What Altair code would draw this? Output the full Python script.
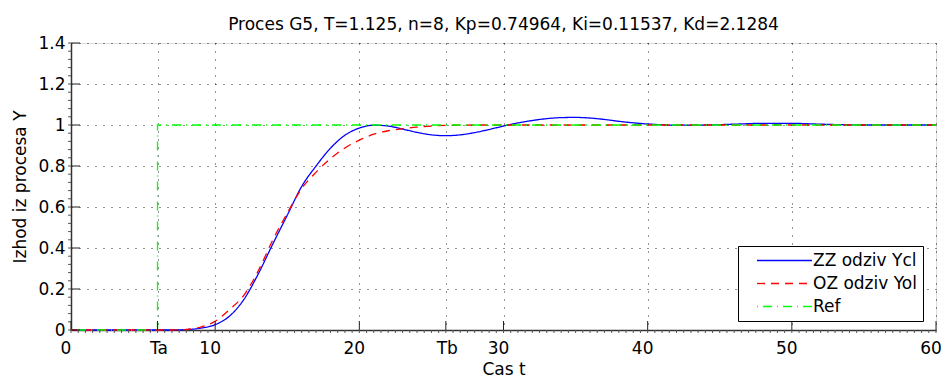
import altair as alt
import pandas as pd

TITLE = "Proces G5, T=1.125, n=8, Kp=0.74964, Ki=0.11537, Kd=2.1284"
X_TITLE = "Cas t"
Y_TITLE = "Izhod iz procesa Y"
SERIES = ["ZZ odziv Ycl", "OZ odziv Yol", "Ref"]
COLORS = ["#0000ff", "#ff0000", "#00ff00"]
DASHES = [[1, 0], [8, 6], [1, 5, 9, 5]]

# closed loop response (ZZ)
t_zz = [0, 6, 7, 8, 9, 10, 11, 12, 13, 14, 15, 16, 17, 18, 19, 20, 21, 22, 23, 24,
        25, 26, 27, 28, 29, 30, 31, 32, 33, 34, 35, 36, 37, 38, 40, 42, 44, 46, 48,
        50, 52, 55, 60]
y_zz = [0, 0, 0.0, 0.002, 0.009, 0.026, 0.068, 0.15, 0.275, 0.42, 0.56, 0.70, 0.80,
        0.887, 0.95, 0.985, 0.999, 0.995, 0.98, 0.964, 0.952, 0.948, 0.952, 0.963,
        0.978, 0.995, 1.01, 1.022, 1.031, 1.036, 1.037, 1.034, 1.027, 1.018, 1.005,
        0.999, 1.0, 1.004, 1.008, 1.008, 1.004, 1.0, 1.0]

# open loop response (OZ)
t_oz = [0, 6, 7, 8, 9, 10, 11, 12, 13, 14, 15, 16, 17, 18, 19, 20, 21, 22, 23, 24,
        25, 26, 28, 30, 40, 50, 60]
y_oz = [0, 0, 0.0, 0.003, 0.014, 0.043, 0.1, 0.17, 0.29, 0.44, 0.57, 0.69, 0.77,
        0.836, 0.888, 0.926, 0.955, 0.972, 0.982, 0.99, 0.995, 0.998, 1.0, 1.0, 1.0,
        1.0, 1.0]

# reference step
t_ref = [0, 6, 6, 60]
y_ref = [0, 0, 1, 1]

X_TICKS = [0, 6, 10, 20, 26, 30, 40, 50, 60]
X_LABELS = ["0", "Ta", "10", "20", "Tb", "30", "40", "50", "60"]
Y_TICKS = [0, 0.2, 0.4, 0.6, 0.8, 1.0, 1.2, 1.4]
Y_LABELS = ["0", "0.2", "0.4", "0.6", "0.8", "1", "1.2", "1.4"]
X_MINOR = [i * 0.5 for i in range(121)]
Y_MINOR = [round(i * 0.04, 2) for i in range(36)]

W, H = 865, 287
FONT = "DejaVu Sans"
FS = 17

rows = []
for name, ts, ys in [(SERIES[0], t_zz, y_zz), (SERIES[1], t_oz, y_oz)]:
    for i, (t, y) in enumerate(zip(ts, ys)):
        rows.append({"s": name, "t": t, "y": y, "i": i})
df_curves = pd.DataFrame(rows)
df_ref = pd.DataFrame({"s": SERIES[2], "t": t_ref, "y": y_ref, "i": range(len(t_ref))})

parts = [f"datum.value == {v} ? '{lab}'" for v, lab in zip(X_TICKS, X_LABELS)]
x_label_expr = " : ".join(parts + ["datum.label"])
y_parts = [f"abs(datum.value - {v}) < 1e-6 ? '{lab}'" for v, lab in zip(Y_TICKS, Y_LABELS)]
y_label_expr = " : ".join(y_parts + ["datum.label"])
# letter labels (Ta, Tb) sit on their ticks, numeric ones a little to the left
letter_test = " || ".join(
    f"datum.value == {v}" for v, lab in zip(X_TICKS, X_LABELS) if not lab[0].isdigit()
)

xscale = alt.Scale(domain=[0, 60], nice=False, zero=False)
yscale = alt.Scale(domain=[0, 1.4], nice=False, zero=False)

x_axis = alt.Axis(values=X_TICKS, labelExpr=x_label_expr, grid=True, gridDash=[1, 7],
                  gridColor="#000000", gridOpacity=0.85, gridWidth=1, ticks=False,
                  domainColor="#333333", domainWidth=1.5, labelFont=FONT, labelFontSize=FS,
                  labelColor="black", labelPadding=10, labelFlush=False, labelOverlap=False,
                  labelOffset={"condition": {"test": letter_test, "value": 1}, "value": -5.5},
                  title=X_TITLE, titleFont=FONT, titleFontSize=FS, titleFontWeight="normal",
                  titleColor="black", titleY=44, titleX=W / 2, titleBaseline="alphabetic",
                  titleAlign="center")
y_axis = alt.Axis(values=Y_TICKS, labelExpr=y_label_expr, grid=True, gridDash=[1, 7],
                  gridColor="#000000", gridOpacity=0.85, gridWidth=1, ticks=False,
                  domainColor="#333333", domainWidth=1.5, labelFont=FONT, labelFontSize=FS,
                  labelColor="black", labelPadding=6, labelFlush=False, labelOverlap=False,
                  title=Y_TITLE, titleFont=FONT, titleFontSize=FS, titleFontWeight="normal",
                  titleColor="black", titleX=-46, titleY=H / 2, titleAngle=270,
                  titleBaseline="alphabetic", titleAlign="center")

legend = alt.Legend(title=None, orient="none", legendX=667, legendY=203, direction="vertical",
                    strokeColor="black", fillColor="white", padding=6, cornerRadius=0,
                    symbolType="M-5,0H5", symbolSize=121, symbolStrokeWidth=1.3,
                    symbolOffset=32, labelOffset=20, labelFont=FONT, labelFontSize=FS,
                    labelColor="black", rowPadding=5, labelLimit=400)

color = alt.Color("s:N", scale=alt.Scale(domain=SERIES, range=COLORS), legend=legend)
dash = alt.StrokeDash("s:N", scale=alt.Scale(domain=SERIES, range=DASHES), legend=legend)

X_ENC = dict(scale=xscale, axis=x_axis)
Y_ENC = dict(scale=yscale, axis=y_axis)

curves = alt.Chart(df_curves).mark_line(interpolate="monotone", strokeWidth=1.3).encode(
    x=alt.X("t:Q", **X_ENC),
    y=alt.Y("y:Q", **Y_ENC),
    color=color, strokeDash=dash, detail="s:N", order="i:Q",
)
ref = alt.Chart(df_ref).mark_line(strokeWidth=1.3).encode(
    x=alt.X("t:Q", **X_ENC),
    y=alt.Y("y:Q", **Y_ENC),
    color=color, strokeDash=dash, order="i:Q",
)

tick_col = "#222222"
xmaj = alt.Chart(pd.DataFrame({"t": X_TICKS})).mark_rule(color=tick_col, strokeWidth=1).encode(
    x=alt.X("t:Q", **X_ENC), y=alt.value(H), y2=alt.value(H - 9))
ymaj = alt.Chart(pd.DataFrame({"y": Y_TICKS})).mark_rule(color=tick_col, strokeWidth=1).encode(
    y=alt.Y("y:Q", **Y_ENC), x=alt.value(0), x2=alt.value(9))
xmin = alt.Chart(pd.DataFrame({"t": X_MINOR})).mark_rule(color="#555555", strokeWidth=1).encode(
    x=alt.X("t:Q", **X_ENC), y=alt.value(H), y2=alt.value(H + 3))
ymin = alt.Chart(pd.DataFrame({"y": Y_MINOR})).mark_rule(color="#555555", strokeWidth=1).encode(
    y=alt.Y("y:Q", **Y_ENC), x=alt.value(0), x2=alt.value(-3))

chart = alt.layer(curves, ref, xmin, ymin, xmaj, ymaj).properties(
    width=W, height=H,
    title=alt.TitleParams(text=TITLE, font=FONT, fontSize=FS, fontWeight="normal",
                          color="black", anchor="middle", offset=0, dy=0),
    autosize=alt.AutoSizeParams(type="none"),
    padding={"left": 71, "top": 43, "right": 11, "bottom": 49},
).configure_view(stroke=None).configure(background="white")

chart.save("out.html", embed_options={"renderer": "svg", "actions": False})
